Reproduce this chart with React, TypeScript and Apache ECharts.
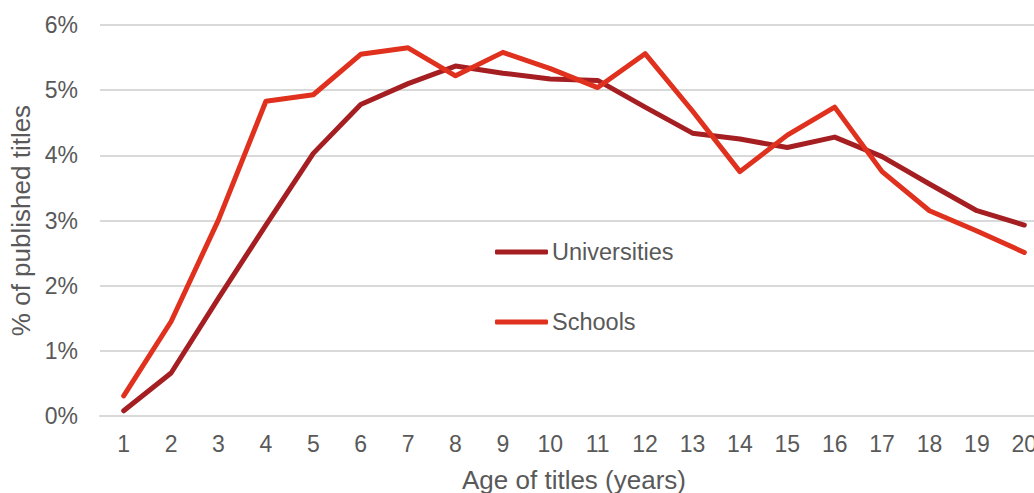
import React, { useEffect, useRef } from "react";
import * as echarts from "echarts";

const categories = ["1","2","3","4","5","6","7","8","9","10","11","12","13","14","15","16","17","18","19","20"];
const universities = [0.08, 0.66, 1.81, 2.93, 4.03, 4.78, 5.10, 5.37, 5.26, 5.17, 5.15, 4.74, 4.34, 4.25, 4.12, 4.28, 3.98, 3.56, 3.15, 2.93];
const schools = [0.31, 1.45, 3.01, 4.83, 4.93, 5.55, 5.65, 5.22, 5.58, 5.33, 5.04, 5.56, 4.68, 3.75, 4.31, 4.74, 3.75, 3.15, 2.84, 2.51];

export default function App() {
  const ref = useRef<HTMLDivElement>(null);
  useEffect(() => {
    if (!ref.current) return;
    const chart = echarts.init(ref.current, null, { renderer: "svg" });
    const font = "'Liberation Sans', Arial, sans-serif";
    chart.setOption({
      animation: false,
      backgroundColor: "#ffffff",
      textStyle: { fontFamily: font },
      grid: { left: 100, top: 25, width: 948, bottom: 77, containLabel: false, outerBoundsMode: "none" },
      legend: {
        orient: "vertical",
        left: 490,
        top: 235,
        itemGap: 46,
        itemWidth: 53,
        itemHeight: 5,
        icon: "roundRect",
        textStyle: { fontSize: 23.5, color: "#595959", fontFamily: font, padding: [0, 0, 0, -1] },
        data: ["Universities", "Schools"],
      },
      xAxis: {
        type: "category",
        data: categories,
        name: "Age of titles (years)",
        nameLocation: "middle",
        nameGap: 51,
        nameTextStyle: { fontSize: 26, color: "#595959", fontFamily: font },
        axisLine: { show: true, lineStyle: { color: "#D9D9D9", width: 2 } },
        axisTick: { show: false },
        axisLabel: { fontSize: 23, color: "#595959", margin: 16, fontFamily: font },
      },
      yAxis: {
        type: "value",
        min: 0,
        max: 6,
        interval: 1,
        name: "% of published titles",
        nameLocation: "middle",
        nameGap: 65,
        nameRotate: 90,
        nameTextStyle: { fontSize: 26, color: "#595959", fontFamily: font },
        axisLine: { show: false },
        axisTick: { show: false },
        axisLabel: { fontSize: 23, color: "#595959", margin: 22, formatter: "{value}%", fontFamily: font },
        splitLine: { lineStyle: { color: "#D9D9D9", width: 2 } },
      },
      series: [
        {
          name: "Universities",
          type: "line",
          data: universities,
          symbol: "none",
          color: "#A51E22",
          lineStyle: { width: 5, color: "#A51E22", cap: "round", join: "round" },
        },
        {
          name: "Schools",
          type: "line",
          data: schools,
          symbol: "none",
          color: "#E0301E",
          lineStyle: { width: 5, color: "#E0301E", cap: "round", join: "round" },
        },
      ],
    });
    return () => chart.dispose();
  }, []);
  return (
    <div style={{ position: "fixed", left: 0, top: 0, width: 1034, height: 493, overflow: "hidden" }}>
      <div ref={ref} style={{ width: 1034, height: 493, overflow: "hidden" }} />
    </div>
  );
}
